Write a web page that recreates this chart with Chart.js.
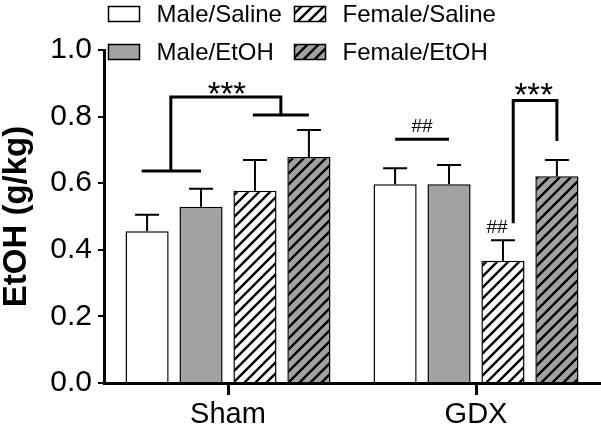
<!DOCTYPE html>
<html>
<head>
<meta charset="utf-8">
<script src="https://cdn.jsdelivr.net/npm/chart.js@4"></script>
<style>
  body { margin: 0; background: #fff; }
  #wrap { width: 601px; height: 432px; }
</style>
</head>
<body>
<div id="wrap"><canvas id="myChart" width="601" height="432"></canvas></div>
<script>
const groups = ["Sham", "GDX"];
const seriesNames = ["Male/Saline", "Male/EtOH", "Female/Saline", "Female/EtOH"];
const maleSaline = [0.456, 0.597];
const maleEtoh = [0.529, 0.597];
const femaleSaline = [0.577, 0.367];
const femaleEtoh = [0.679, 0.621];
const maleSalineSem = [0.049, 0.048];
const maleEtohSem = [0.054, 0.058];
const femaleSalineSem = [0.093, 0.062];
const femaleEtohSem = [0.081, 0.049];
const yTicks = [0, 0.2, 0.4, 0.6, 0.8, 1.0];

// significance marks: x is a position in bar slots inside the group, y in g/kg
const bracketPaths = [
  { cat: 0, pts: [[-0.1, 0.637], [1.0, 0.637]] },
  { cat: 0, pts: [[0.44, 0.637], [0.44, 0.859], [2.48, 0.859], [2.48, 0.805]] },
  { cat: 0, pts: [[1.96, 0.805], [3.0, 0.805]] },
  { cat: 1, pts: [[0, 0.732], [1, 0.732]] },
  { cat: 1, pts: [[2.19, 0.48], [2.19, 0.848], [3.0, 0.848], [3.0, 0.727]] },
];
const sigLabels = [
  { cat: 0, pos: 1.48, y: 0.835, text: "***", size: 33 },
  { cat: 1, pos: 0.5, y: 0.754, text: "##", size: 19 },
  { cat: 1, pos: 1.89, y: 0.45, text: "##", size: 19 },
  { cat: 1, pos: 2.57, y: 0.832, text: "***", size: 33 },
];

const GRAY = "#a2a2a2";
const FONT = "'Liberation Sans', Arial, sans-serif";

const hatch = (base) => {
  const c = document.createElement("canvas");
  c.width = 11;
  c.height = 11;
  const g = c.getContext("2d");
  g.fillStyle = base;
  g.fillRect(0, 0, 11, 11);
  g.strokeStyle = "#000";
  g.lineWidth = 2.4;
  g.beginPath();
  g.moveTo(-2, 13); g.lineTo(13, -2);
  g.moveTo(-2, 2); g.lineTo(2, -2);
  g.moveTo(9, 13); g.lineTo(13, 9);
  g.stroke();
  return g.createPattern(c, "repeat");
};

const fills = ["#ffffff", GRAY, hatch("#ffffff"), hatch(GRAY)];
const values = [maleSaline, maleEtoh, femaleSaline, femaleEtoh];
const sems = [maleSalineSem, maleEtohSem, femaleSalineSem, femaleEtohSem];

const slotX = (chart, cat, pos) => {
  const x0 = chart.getDatasetMeta(0).data[cat].x;
  const x1 = chart.getDatasetMeta(1).data[cat].x;
  return x0 + pos * (x1 - x0);
};

const extrasPlugin = {
  id: "extras",
  afterDatasetsDraw(chart) {
    const ctx = chart.ctx;
    const y = chart.scales.y;
    ctx.save();
    ctx.strokeStyle = "#000";
    // error bars (upper only)
    ctx.lineWidth = 2;
    chart.data.datasets.forEach((ds, i) => {
      chart.getDatasetMeta(i).data.forEach((bar, j) => {
        const top = y.getPixelForValue(ds.data[j]);
        const hi = y.getPixelForValue(ds.data[j] + sems[i][j]);
        ctx.beginPath();
        ctx.moveTo(bar.x, top);
        ctx.lineTo(bar.x, hi);
        ctx.moveTo(bar.x - 12, hi);
        ctx.lineTo(bar.x + 12, hi);
        ctx.stroke();
      });
    });
    // brackets
    ctx.lineWidth = 3;
    ctx.lineJoin = "miter";
    bracketPaths.forEach((p) => {
      ctx.beginPath();
      p.pts.forEach(([pos, v], k) => {
        const px = slotX(chart, p.cat, pos);
        const py = y.getPixelForValue(v);
        if (k === 0) ctx.moveTo(px, py);
        else ctx.lineTo(px, py);
      });
      ctx.stroke();
    });
    ctx.fillStyle = "#000";
    ctx.textAlign = "center";
    ctx.textBaseline = "alphabetic";
    sigLabels.forEach((l) => {
      ctx.font = l.size + "px " + FONT;
      ctx.fillText(l.text, slotX(chart, l.cat, l.pos), y.getPixelForValue(l.y));
    });
    ctx.restore();
  },
  afterDraw(chart) {
    // two-column legend
    const ctx = chart.ctx;
    ctx.save();
    ctx.font = "24px " + FONT;
    ctx.textBaseline = "middle";
    ctx.textAlign = "left";
    chart.data.datasets.forEach((ds, i) => {
      const col = Math.floor(i / 2);
      const row = i % 2;
      const bx = col === 0 ? 108.5 : 294.5;
      const cy = row === 0 ? 14 : 52;
      ctx.fillStyle = ds.backgroundColor;
      ctx.fillRect(bx, cy - 7.5, 31, 15);
      ctx.lineWidth = 1.5;
      ctx.strokeStyle = "#000";
      ctx.strokeRect(bx, cy - 7.5, 31, 15);
      ctx.fillStyle = "#000";
      ctx.fillText(ds.label, bx + 48, cy + 1);
    });
    ctx.restore();
  },
};

const ctxBar = document.getElementById("myChart");

new Chart(ctxBar, {
  type: "bar",
  data: {
    labels: groups,
    datasets: seriesNames.map((name, i) => ({
      label: name,
      data: values[i],
      backgroundColor: fills[i],
      borderColor: "#000",
      borderWidth: 1.5,
      categoryPercentage: 0.87,
      barPercentage: 0.8,
    })),
  },
  options: {
    responsive: false,
    animation: false,
    events: [],
    layout: { padding: { top: 50, right: 1, left: 0, bottom: 0 } },
    plugins: {
      legend: { display: false },
      tooltip: { enabled: false },
    },
    scales: {
      x: {
        afterFit: (s) => { s.height = 49; },
        border: { display: true, color: "#000", width: 3 },
        grid: {
          offset: false,
          drawOnChartArea: false,
          drawTicks: true,
          tickLength: 12,
          color: "#000",
          lineWidth: 3,
        },
        ticks: {
          color: "#000",
          padding: 3,
          font: { family: FONT, size: 29 },
        },
      },
      y: {
        min: 0,
        max: 1.0,
        afterFit: (s) => { s.width = 104; },
        afterBuildTicks: (s) => { s.ticks = yTicks.map((v) => ({ value: v })); },
        border: { display: true, color: "#000", width: 3 },
        grid: {
          drawOnChartArea: false,
          drawTicks: true,
          tickLength: 6,
          color: "#000",
          lineWidth: 2,
        },
        ticks: {
          color: "#000",
          padding: 6,
          font: { family: FONT, size: 30 },
          callback: (v) => Number(v).toFixed(1),
        },
        title: {
          display: true,
          text: "EtOH (g/kg)",
          color: "#000",
          padding: { top: 0, bottom: 0 },
          font: { family: FONT, size: 33, weight: "bold", lineHeight: 1.0 },
        },
      },
    },
  },
  plugins: [extrasPlugin],
});
</script>
</body>
</html>
